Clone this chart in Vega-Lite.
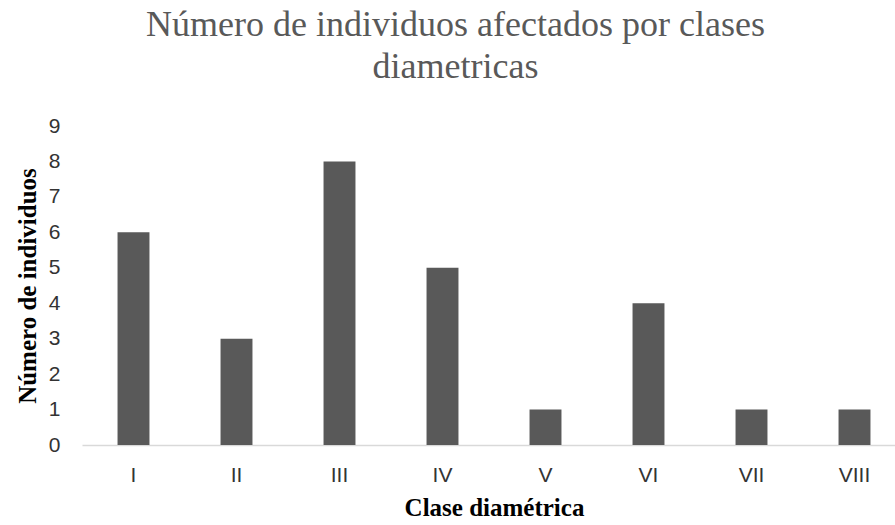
{
  "$schema": "https://vega.github.io/schema/vega-lite/v6.json",
  "autosize": {"type": "none"},
  "padding": {"left": 82, "top": 126, "right": 0, "bottom": 80},
  "width": 813,
  "height": 319,
  "background": "white",
  "title": {
    "text": ["Número de individuos afectados por clases", "diametricas"],
    "font": "Liberation Serif",
    "fontSize": 36,
    "fontWeight": "normal",
    "color": "#595959",
    "anchor": "middle",
    "frame": "group",
    "dx": -33,
    "lineHeight": 42,
    "offset": 29
  },
  "data": {
    "values": [
      {"clase": "I", "n": 6},
      {"clase": "II", "n": 3},
      {"clase": "III", "n": 8},
      {"clase": "IV", "n": 5},
      {"clase": "V", "n": 1},
      {"clase": "VI", "n": 4},
      {"clase": "VII", "n": 1},
      {"clase": "VIII", "n": 1}
    ]
  },
  "mark": {"type": "bar", "color": "#595959"},
  "encoding": {
    "x": {
      "field": "clase",
      "type": "ordinal",
      "sort": null,
      "scale": {"range": [0, 824], "paddingInner": 0.69, "paddingOuter": 0.345},
      "axis": {
        "title": "Clase diamétrica",
        "titleFont": "Liberation Serif",
        "titleFontWeight": "bold",
        "titleFontSize": 25,
        "titleColor": "#000000",
        "titlePadding": 10,
        "labelFont": "Liberation Sans",
        "labelFontSize": 21,
        "labelColor": "#333333",
        "labelAngle": 0,
        "labelPadding": 19,
        "ticks": false,
        "domainColor": "#d9d9d9",
        "domainWidth": 1.5,
        "grid": false
      }
    },
    "y": {
      "field": "n",
      "type": "quantitative",
      "scale": {"domain": [0, 9], "nice": false},
      "axis": {
        "title": "Número de individuos",
        "titleFont": "Liberation Serif",
        "titleFontWeight": "bold",
        "titleFontSize": 25,
        "titleColor": "#000000",
        "titlePadding": 8,
        "labelFont": "Liberation Sans",
        "labelFontSize": 21,
        "labelColor": "#333333",
        "labelPadding": 22,
        "values": [0, 1, 2, 3, 4, 5, 6, 7, 8, 9],
        "ticks": false,
        "domain": false,
        "grid": false
      }
    }
  },
  "config": {"view": {"stroke": null}}
}
